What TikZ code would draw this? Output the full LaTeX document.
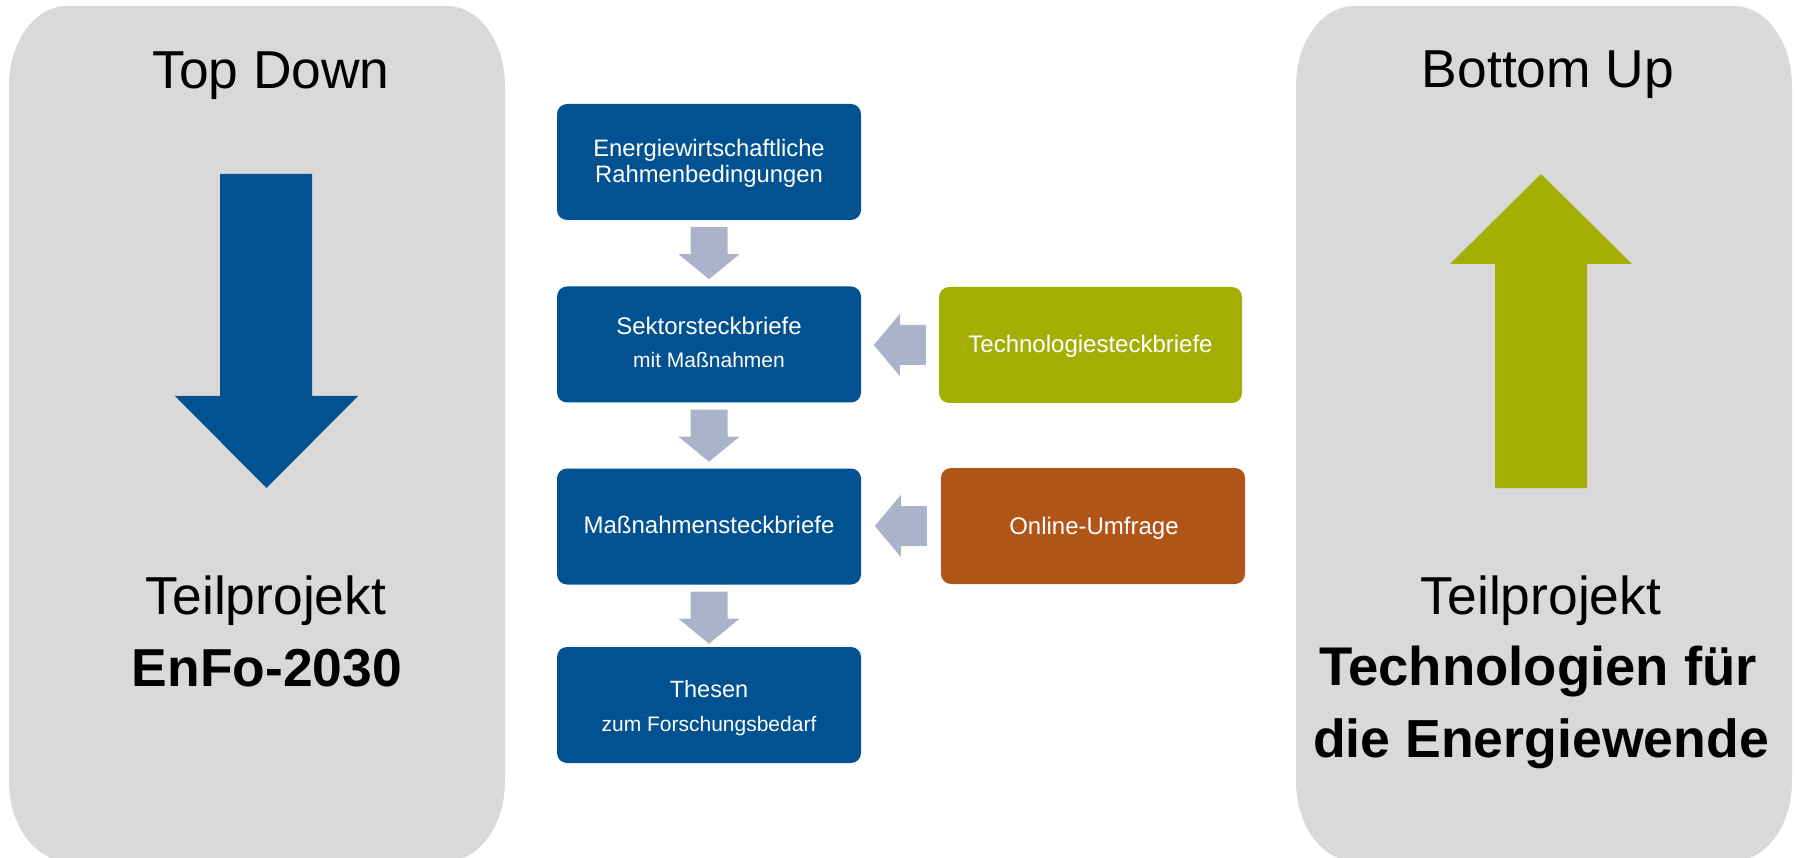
\documentclass[tikz,border=0pt]{standalone}
\usepackage{fontspec}
\setmainfont{Liberation Sans}
\usetikzlibrary{calc}
\definecolor{panelgray}{RGB}{217,217,217}
\definecolor{boxblue}{RGB}{2,82,145}
\definecolor{techgreen}{RGB}{164,174,4}
\definecolor{umfrage}{RGB}{176,84,24}
\definecolor{arrowgray}{RGB}{170,179,201}
\newcommand\fsz[1]{\fontsize{#1}{#1}\selectfont}
\begin{document}
\begin{tikzpicture}[x=1pt,y=-1pt,
  flowbox/.style={rectangle, rounded corners=10pt, minimum width=304pt, minimum height=116pt, inner sep=0pt, fill=boxblue},
  boxtext/.style={anchor=base, text=white, inner sep=0pt},
  bigtext/.style={anchor=base, text=black, inner sep=0pt},
  downarr/.pic={\fill[arrowgray] (-18.5,0) -- (18.5,0) -- (18.5,27) -- (30.5,27) -- (0,52) -- (-30.5,27) -- (-18.5,27) -- cycle;},
  leftarr/.pic={\fill[arrowgray] (0,-20) -- (0,20) -- (-26,20) -- (-26,31) -- (-52,0) -- (-26,-31) -- (-26,-20) -- cycle;}
]
\clip (0,0) rectangle (1799,858);
\fill[white] (0,0) rectangle (1799,858);

% left panel
\fill[panelgray] (9,86) arc[start angle=180,end angle=270,x radius=58,y radius=80]
  -- (447,6) arc[start angle=270,end angle=360,x radius=58,y radius=80]
  -- (505,781) arc[start angle=0,end angle=90,x radius=58,y radius=80]
  -- (67,861) arc[start angle=90,end angle=180,x radius=58,y radius=80] -- cycle;
% right panel
\fill[panelgray] (1296,86) arc[start angle=180,end angle=270,x radius=58,y radius=80]
  -- (1734,6) arc[start angle=270,end angle=360,x radius=58,y radius=80]
  -- (1792,781) arc[start angle=0,end angle=90,x radius=58,y radius=80]
  -- (1354,861) arc[start angle=90,end angle=180,x radius=58,y radius=80] -- cycle;

% big arrows
\fill[boxblue] (220,174) -- (312,174) -- (312,396) -- (358,396) -- (266.5,488) -- (175,396) -- (220,396) -- cycle;
\fill[techgreen] (1541,174) -- (1632,264) -- (1587,264) -- (1587,488) -- (1495,488) -- (1495,264) -- (1450,264) -- cycle;

% panel texts
\node[bigtext] (td) at (271,89) {\fsz{53.4}Top Down};
\node[bigtext] (tp1) at (266,614) {\fsz{53.4}Teilprojekt};
\node[bigtext] (enfo) at (267,686) {\fsz{53.4}\bfseries EnFo-2030};
\node[bigtext] (bu) at (1548,88) {\fsz{53.4}Bottom Up};
\node[bigtext] (tp2) at (1541,614) {\fsz{53.4}Teilprojekt};
\node[bigtext] (tfe1) at (1538,685) {\fsz{54.5}\bfseries Technologien für};
\node[bigtext] (tfe2) at (1541,757) {\fsz{53.6}\bfseries die Energiewende};

% flow boxes
\node[flowbox] (b1) at (709,162) {};
\node[flowbox] (b2) at (709,344.5) {};
\node[flowbox] (b3) at (709,526.5) {};
\node[flowbox] (b4) at (709,705) {};
\node[flowbox, fill=techgreen, minimum width=303pt] (tech) at (1090.5,345) {};
\node[flowbox, fill=umfrage] (umf) at (1093,526) {};

\node[boxtext] (b1a) at ($(b1.center)+(0,-5)$) {\fsz{23.8}Energiewirtschaftliche};
\node[boxtext] (b1b) at ($(b1.center)+(0,20.5)$) {\fsz{23.8}Rahmenbedingungen};
\node[boxtext] (b2a) at ($(b2.center)+(0,-10)$) {\fsz{24}Sektorsteckbriefe};
\node[boxtext] (b2b) at ($(b2.center)+(0,23)$) {\fsz{21}mit Maßnahmen};
\node[boxtext] (b3a) at ($(b3.center)+(0,7)$) {\fsz{24}Maßnahmensteckbriefe};
\node[boxtext] (b4a) at ($(b4.center)+(0,-8)$) {\fsz{23.5}Thesen};
\node[boxtext] (b4b) at ($(b4.center)+(0,26)$) {\fsz{21}zum Forschungsbedarf};
\node[boxtext] (techt) at ($(tech.center)+(0,8)$) {\fsz{24}Technologiesteckbriefe};
\node[boxtext] (umft) at ($(umf.center)+(1,8)$) {\fsz{24}Online-Umfrage};

% block arrows between boxes
\pic at ($(b1.south)+(0,7)$) {downarr};
\pic at ($(b2.south)+(0,7)$) {downarr};
\pic at ($(b3.south)+(0,7)$) {downarr};
\pic at ($(tech.west)+(-13,0)$) {leftarr};
\pic at ($(umf.west)+(-14,0)$) {leftarr};
\end{tikzpicture}
\end{document}
